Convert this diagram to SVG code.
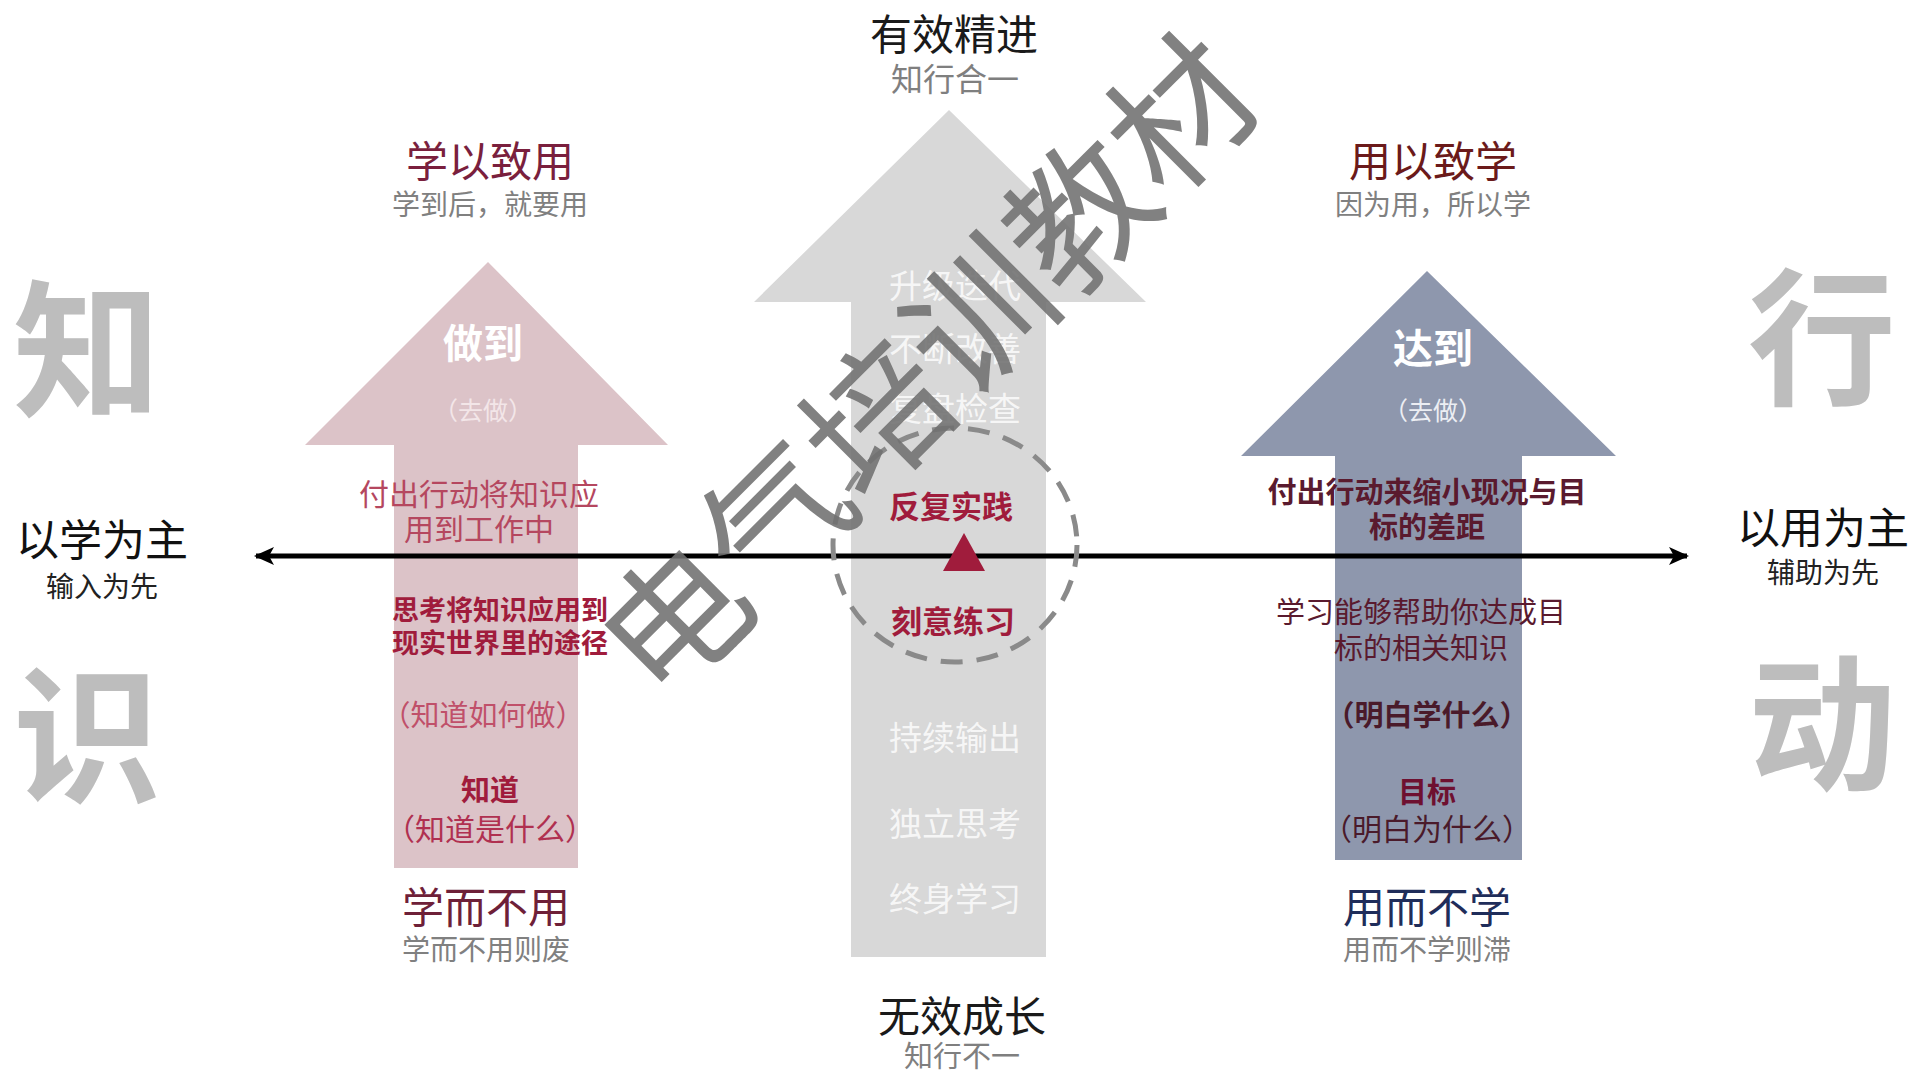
<svg xmlns="http://www.w3.org/2000/svg" width="1912" height="1076" viewBox="0 0 1912 1076">
<defs>
<style>
text{font-family:"Noto Sans CJK SC","Noto Sans",sans-serif;text-anchor:middle}
.big{font-size:148px;font-weight:700;fill:#bdbdbd}
.title{font-size:42px}
.sub{font-size:28px;fill:#808080}
.w{fill:#ffffff}
.cw{font-size:33px;fill:#ffffff;fill-opacity:0.8}
.b{font-weight:700}
</style>
<marker id="ah" viewBox="0 0 20 18" refX="18" refY="9" markerWidth="20" markerHeight="18" markerUnits="userSpaceOnUse" orient="auto-start-reverse">
<path d="M0,0 L20,9 L0,18 L5,9 Z" fill="#000"/>
</marker>
</defs>
<rect width="1912" height="1076" fill="#ffffff"/>

<g id="side-chars">
<text class="big" x="87" y="405">知</text>
<text class="big" x="87" y="791">识</text>
<text class="big" x="1822" y="393">行</text>
<text class="big" x="1822" y="779">动</text>
</g>

<g id="arrow-left">
<polygon points="488,262 668,445 578,445 578,868 394,868 394,445 305,445" fill="#dcc3c8"/>
<text class="title" x="490" y="177" fill="#7a1f3d">学以致用</text>
<text class="sub" x="490" y="215">学到后，就要用</text>
<text class="w b" x="483" y="358" font-size="40">做到</text>
<text x="483" y="420" font-size="25" fill="#f3e6e8">（去做）</text>
<text x="479" y="505" font-size="30" fill="#b5475f">付出行动将知识应</text>
<text x="479" y="540" font-size="30" fill="#b5475f">用到工作中</text>
<text class="b" x="500" y="620" font-size="27" fill="#a01c3c">思考将知识应用到</text>
<text class="b" x="500" y="653" font-size="27" fill="#a01c3c">现实世界里的途径</text>
<text x="483" y="726" font-size="29" fill="#c0506a">（知道如何做）</text>
<text class="b" x="490" y="801" font-size="29" fill="#a01c3c">知道</text>
<text x="490" y="840" font-size="30" fill="#b03050">（知道是什么）</text>
<text class="title" x="486" y="923" fill="#6e2038">学而不用</text>
<text class="sub" x="486" y="960">学而不用则废</text>
</g>

<g id="arrow-center">
<polygon points="949,110 1146,302 1046,302 1046,957 851,957 851,302 754,302" fill="#d8d8d8"/>
<text x="954" y="50" font-size="42" fill="#1a1a1a">有效精进</text>
<text x="955" y="91" font-size="32" fill="#7f7f7f">知行合一</text>
<text class="cw" x="955" y="298">升级迭代</text>
<text class="cw" x="955" y="361">不断改善</text>
<text class="cw" x="955" y="421">复盘检查</text>
<text class="cw" x="955" y="750">持续输出</text>
<text class="cw" x="955" y="836">独立思考</text>
<text class="cw" x="955" y="911">终身学习</text>
<text x="962" y="1032" font-size="42" fill="#1a1a1a">无效成长</text>
<text x="962" y="1067" font-size="29" fill="#7f7f7f">知行不一</text>
</g>

<g id="arrow-right">
<polygon points="1427,271 1616,456 1522,456 1522,860 1335,860 1335,456 1241,456" fill="#8e97ad"/>
<text class="title" x="1433" y="177" fill="#6b1a1a">用以致学</text>
<text class="sub" x="1433" y="215">因为用，所以学</text>
<text class="w b" x="1433" y="363" font-size="40">达到</text>
<text x="1433" y="420" font-size="25" fill="#eceef3">（去做）</text>
<text class="b" x="1427" y="503" font-size="29" fill="#5a1a2e">付出行动来缩小现况与目</text>
<text class="b" x="1427" y="538" font-size="29" fill="#5a1a2e">标的差距</text>
<text x="1421" y="623" font-size="29" fill="#5a1a2e">学习能够帮助你达成目</text>
<text x="1421" y="659" font-size="29" fill="#5a1a2e">标的相关知识</text>
<text class="b" x="1427" y="726" font-size="29" fill="#4a1a2a">（明白学什么）</text>
<text class="b" x="1427" y="803" font-size="29" fill="#6e1030">目标</text>
<text x="1427" y="840" font-size="30" fill="#4a1a2a">（明白为什么）</text>
<text class="title" x="1427" y="923" fill="#1f2d5a">用而不学</text>
<text class="sub" x="1427" y="960">用而不学则滞</text>
</g>

<g id="axis-labels">
<text x="102" y="556" font-size="43" fill="#111">以学为主</text>
<text x="102" y="597" font-size="28" fill="#222">输入为先</text>
<text x="1823" y="544" font-size="43" fill="#111">以用为主</text>
<text x="1823" y="583" font-size="28" fill="#222">辅助为先</text>
</g>

<g id="connectors">
<line x1="256" y1="556" x2="1687" y2="556" stroke="#000" stroke-width="5" marker-start="url(#ah)" marker-end="url(#ah)"/>
</g>

<g id="focus">
<ellipse cx="955" cy="545" rx="122" ry="117" fill="none" stroke="#8a8a8a" stroke-width="5" stroke-dasharray="22 14"/>
<text class="b" x="951" y="518" font-size="31" fill="#a01c3c">反复实践</text>
<polygon points="964,533 985,571 943,571" fill="#a01c3c"/>
<text class="b" x="953" y="633" font-size="31" fill="#a01c3c">刻意练习</text>
</g>

<g id="watermark">
<text x="930" y="369" font-size="143" fill="#6f6f6f" fill-opacity="0.88" transform="rotate(-45 930 369)" dy="50">电气培训教材</text>
</g>
</svg>
